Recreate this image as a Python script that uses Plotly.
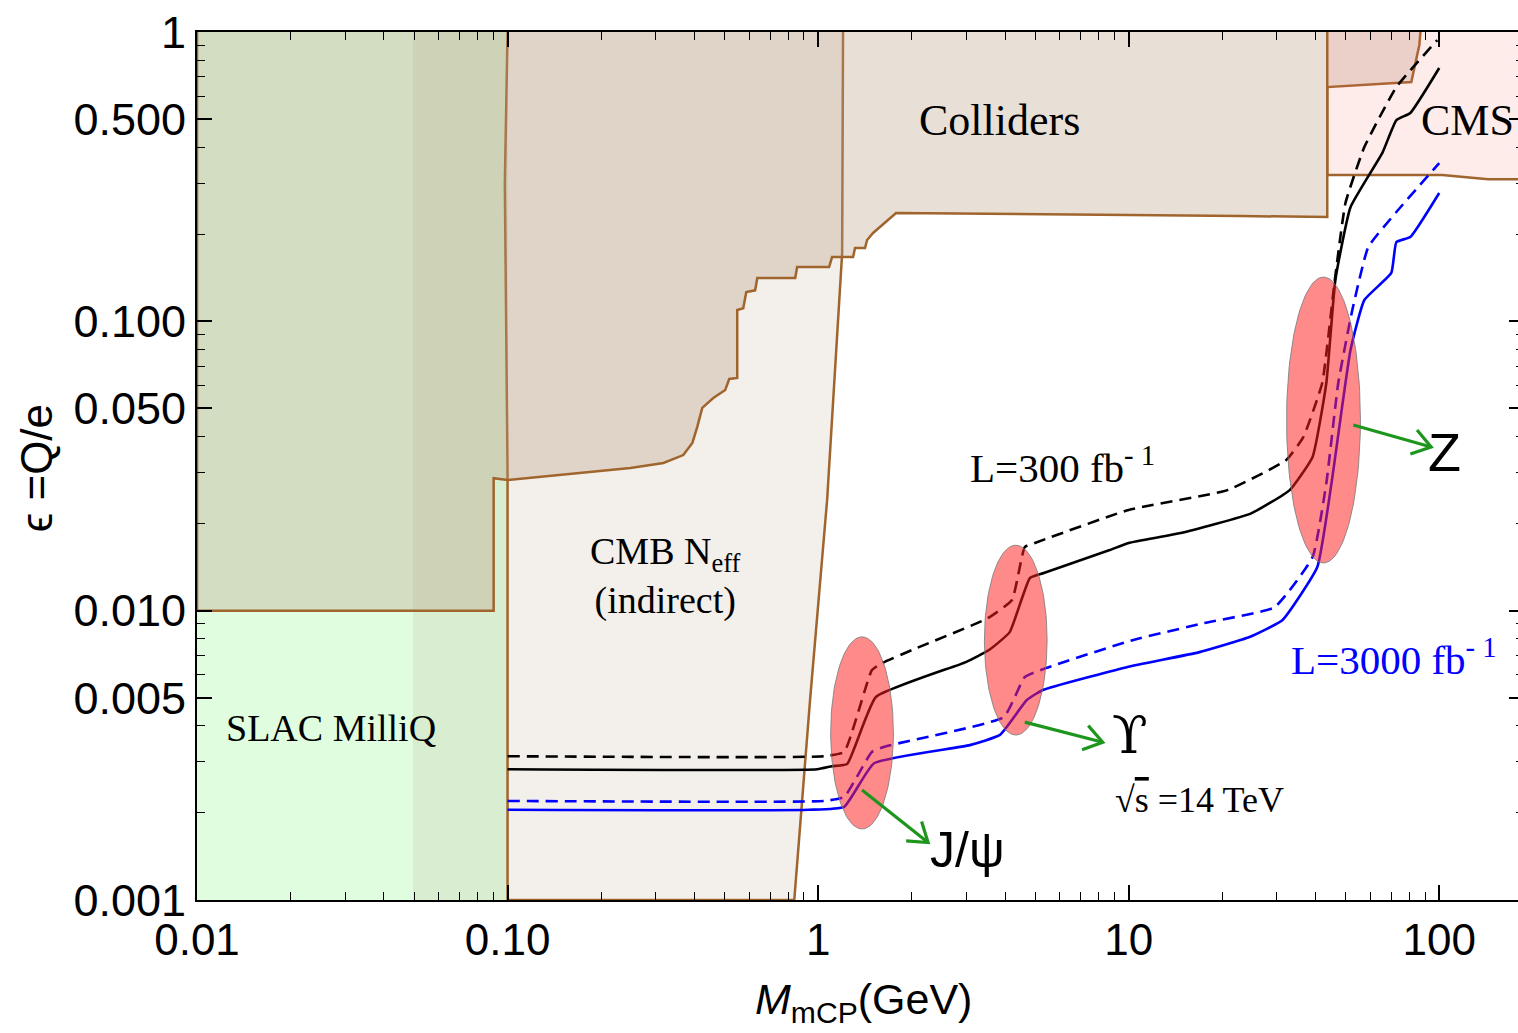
import numpy as np
import plotly.graph_objects as go

# ---------------- data (mass in GeV, epsilon = Q/e) ----------------
slac_x = [0.01, 0.1, 0.1, 0.01]
slac_y = [0.001, 0.001, 1.0, 1.0]

band_x = [0.0496, 0.1, 0.1, 0.0496]
band_y = [0.001, 0.001, 1.0, 1.0]

cmb_x = [0.1, 0.098, 0.1, 0.1, 0.838, 0.942, 1.069, 1.195, 1.203]
cmb_y = [1.0, 0.3, 0.03, 0.001, 0.001, 0.00491, 0.0241, 0.172, 1.0]

coll_x = [0.01, 0.01, 0.0902, 0.0902, 0.1, 0.1717, 0.2486, 0.3176, 0.368, 0.3936,
          0.408, 0.4236, 0.4597, 0.5023, 0.5173, 0.549, 0.549, 0.574, 0.587, 0.627,
          0.637, 0.844, 0.856, 1.085, 1.109, 1.296, 1.315, 1.416, 1.438, 1.503,
          1.618, 1.782, 22.9, 43.6, 43.6, 81.3, 86.3, 87.0]
coll_y = [1.0, 0.01, 0.01, 0.0287, 0.0283, 0.0299, 0.0311, 0.0324, 0.0345, 0.0380,
          0.0431, 0.0502, 0.0543, 0.0579, 0.0632, 0.0637, 0.1094, 0.111, 0.1263, 0.128,
          0.1411, 0.1411, 0.154, 0.154, 0.1668, 0.1668, 0.1792, 0.1792, 0.191, 0.202,
          0.217, 0.2367, 0.2312, 0.2294, 0.645, 0.672, 0.902, 1.0]

cms_x = [43.6, 43.6, 102.2, 143.8, 200.0, 200.0]
cms_y = [1.0, 0.3204, 0.3204, 0.310, 0.310, 1.0]

# L = 300 fb^-1 (black), dashed and solid
bd_x = [0.1, 1.045, 1.213, 1.49, 1.607, 2.005, 3.52, 4.21, 4.63, 4.99, 10.0, 20.8,
        32.2, 36.5, 42.0, 45.9, 49.9, 57.4, 72.8, 98.6]
bd_y = [0.00314, 0.00314, 0.00325, 0.00623, 0.00659, 0.00731, 0.00942, 0.01088,
        0.0166, 0.01714, 0.0223, 0.0261, 0.0332, 0.0398, 0.0612, 0.1334, 0.2564,
        0.4004, 0.645, 0.938]
bs_x = [0.1, 0.993, 1.109, 1.24, 1.535, 2.99, 3.55, 4.14, 4.81, 5.33, 8.69, 10.0,
        14.7, 24.8, 33.0, 39.1, 43.3, 46.3, 51.8, 65.6, 72.8, 80.7, 100.0]
bs_y = [0.00283, 0.00283, 0.00290, 0.00295, 0.00503, 0.00664, 0.00731, 0.00843,
        0.01297, 0.01349, 0.0162, 0.01714, 0.01854, 0.0217, 0.0261, 0.0340, 0.0612,
        0.139, 0.248, 0.382, 0.496, 0.525, 0.751]

# L = 3000 fb^-1 (blue), dashed and solid
ud_x = [0.1, 1.045, 1.213, 1.49, 1.655, 3.96, 4.63, 5.41, 10.3, 17.5, 29.5, 39.1,
        43.3, 47.3, 52.5, 59.1, 72.8, 100.0]
ud_y = [0.00220, 0.00220, 0.00227, 0.00325, 0.00340, 0.00429, 0.00590, 0.00633,
        0.00791, 0.00906, 0.01028, 0.01532, 0.0276, 0.0612, 0.1094, 0.1807, 0.2387,
        0.3525]
us_x = [0.1, 0.935, 1.213, 1.514, 3.08, 3.85, 4.70, 5.29, 9.86, 16.9, 24.5, 31.3,
        40.5, 45.0, 51.8, 57.4, 70.1, 72.8, 80.7, 100.0]
us_y = [0.00205, 0.00205, 0.00210, 0.00297, 0.00343, 0.00372, 0.00491, 0.00532,
        0.00638, 0.00719, 0.00811, 0.00929, 0.01415, 0.0276, 0.0796, 0.1185, 0.147,
        0.188, 0.1956, 0.2777]

# resonances highlighted by ellipses
res_names = ["J/ψ", "ϒ", "Z"]
res_mass = [1.385, 4.33, 42.4]
res_eps = [0.00378, 0.00791, 0.0456]
arrow_tail_x = [1.385, 4.63, 52.9]
arrow_tail_y = [0.0024, 0.00412, 0.0438]
arrow_head_x = [2.26, 8.25, 94.2]
arrow_head_y = [0.00158, 0.00351, 0.0368]
res_label_x = [3.03, 10.07, 103.7]
res_label_y = [0.00149, 0.00372, 0.0353]

# region / curve labels
region_labels = ["Colliders", "CMS", "CMB N<sub>eff</sub><br>(indirect)", "SLAC MilliQ"]
region_label_x = [3.85, 86.3, 0.322, 0.027]
region_label_y = [0.496, 0.496, 0.01318, 0.00393]

x_major = [0.01, 0.1, 1, 10, 100]
x_major_text = ["0.01", "0.10", "1", "10", "100"]
y_major = [0.001, 0.005, 0.01, 0.05, 0.1, 0.5, 1]
y_major_text = ["0.001", "0.005", "0.010", "0.050", "0.100", "0.500", "1"]

# ---------------- styling / geometry ----------------
ell_half_dec_x = [0.101, 0.101, 0.119]     # ellipse half widths (decades)
ell_half_dec_y = [0.332, 0.328, 0.494]     # ellipse half heights (decades)
X_RANGE = [-2, 2.273]
Y_RANGE = [-3, 0]
ML, MT, MB = 197, 32, 133
W, H = 1526, 1033
PLOT_W = W - ML
PLOT_H = H - MT - MB
PX_X = PLOT_W / (X_RANGE[1] - X_RANGE[0])   # pixels per decade
PX_Y = PLOT_H / (Y_RANGE[1] - Y_RANGE[0])

BROWN = "rgb(160,100,45)"
GREEN = "rgb(30,150,30)"
SERIF = "Liberation Serif, Times New Roman, serif"
SANS = "Liberation Sans, Arial, sans-serif"

fig = go.Figure()


def region(x, y, fill, line=True):
    fig.add_trace(go.Scatter(
        x=x, y=y, mode="lines", fill="toself", fillcolor=fill,
        line=dict(color=BROWN if line else "rgba(0,0,0,0)", width=2.5 if line else 0),
        hoverinfo="skip"))


region(slac_x, slac_y, "rgb(224,253,224)", line=False)
region(band_x, band_y, "rgba(186,159,135,0.17)", line=False)
region(cmb_x, cmb_y, "rgba(186,159,135,0.17)")
region(coll_x, coll_y, "rgba(186,159,135,0.33)")
region(cms_x, cms_y, "rgba(245,105,100,0.13)")

for x, y, c, d in [(bd_x, bd_y, "black", "12px,7px"), (bs_x, bs_y, "black", "solid"),
                   (ud_x, ud_y, "blue", "12px,7px"), (us_x, us_y, "blue", "solid")]:
    fig.add_trace(go.Scatter(x=x, y=y, mode="lines", line_shape="spline",
                             line=dict(color=c, width=2.6, dash=d, smoothing=0.4),
                             hoverinfo="skip"))

# ellipses (drawn in log space)
t = np.linspace(0, 2 * np.pi, 121)
for m, e, hx, hy in zip(res_mass, res_eps, ell_half_dec_x, ell_half_dec_y):
    ex = 10 ** (np.log10(m) + hx * np.cos(t))
    ey = 10 ** (np.log10(e) + hy * np.sin(t))
    fig.add_trace(go.Scatter(x=ex, y=ey, mode="lines", fill="toself",
                             fillcolor="rgba(255,30,30,0.52)",
                             line=dict(color="rgba(120,120,120,0.8)", width=1),
                             hoverinfo="skip"))

# green arrows with open chevron heads
for tx, ty, hx_, hy_ in zip(arrow_tail_x, arrow_tail_y, arrow_head_x, arrow_head_y):
    fig.add_trace(go.Scatter(x=[tx, hx_], y=[ty, hy_], mode="lines",
                             line=dict(color=GREEN, width=3.2), hoverinfo="skip"))
    dx = (np.log10(hx_) - np.log10(tx)) * PX_X
    dy = (np.log10(hy_) - np.log10(ty)) * PX_Y
    n = np.hypot(dx, dy)
    ux, uy = dx / n, dy / n
    arm = []
    for ang in (0.6, -0.6):
        rx = ux * np.cos(ang) - uy * np.sin(ang)
        ry = ux * np.sin(ang) + uy * np.cos(ang)
        arm.append((10 ** (np.log10(hx_) - 22 * rx / PX_X),
                    10 ** (np.log10(hy_) - 22 * ry / PX_Y)))
    fig.add_trace(go.Scatter(x=[arm[0][0], hx_, arm[1][0]], y=[arm[0][1], hy_, arm[1][1]],
                             mode="lines", line=dict(color=GREEN, width=3.2),
                             hoverinfo="skip"))

ann = []
for name, lx, ly in zip(res_names, res_label_x, res_label_y):
    fam = "DejaVu Serif, Liberation Serif, serif" if name == "ϒ" else SANS
    size = {"J/ψ": 50, "ϒ": 52, "Z": 54}[name]
    ann.append(dict(x=np.log10(lx), y=np.log10(ly), xref="x", yref="y", text=name,
                    showarrow=False, xanchor="center", yanchor="middle",
                    font=dict(family=fam, size=size, color="black")))

for txt, lx, ly in zip(region_labels, region_label_x, region_label_y):
    anchor = "left" if txt == "CMS" else "center"
    ann.append(dict(x=np.log10(lx), y=np.log10(ly), xref="x", yref="y", text=txt,
                    showarrow=False, xanchor=anchor, yanchor="middle",
                    font=dict(family=SERIF, size=44 if txt in ("Colliders", "CMS") else 38,
                              color="black")))

ann.append(dict(x=np.log10(6.14), y=np.log10(0.0319), xref="x", yref="y",
                text="L=300 fb<sup>- 1</sup>", showarrow=False,
                xanchor="center", yanchor="middle",
                font=dict(family=SERIF, size=41, color="black")))
ann.append(dict(x=np.log10(71.6), y=np.log10(0.00691), xref="x", yref="y",
                text="L=3000 fb<sup>- 1</sup>", showarrow=False,
                xanchor="center", yanchor="middle",
                font=dict(family=SERIF, size=41, color="blue")))
ann.append(dict(x=np.log10(16.9), y=np.log10(0.00221), xref="x", yref="y",
                text="√<span style='text-decoration:overline'>s</span> =14 TeV",
                showarrow=False, xanchor="center", yanchor="middle",
                font=dict(family=SERIF, size=36, color="black")))

# axis titles (paper coords relative to the visible 1321-px plot width)
ann.append(dict(x=(37 - ML) / PLOT_W, y=0.4977, xref="paper", yref="paper", text="ϵ =Q/e",
                textangle=-90, showarrow=False, xanchor="center", yanchor="middle",
                font=dict(family=SANS, size=44, color="black")))
ann.append(dict(x=(865 - ML) / PLOT_W, y=-0.118, xref="paper", yref="paper",
                text="<i>M</i><sub>mCP</sub>(GeV)", showarrow=False,
                xanchor="center", yanchor="middle",
                font=dict(family=SANS, size=43, color="black")))

x_minor = [k * 10.0 ** d for d in range(-2, 3) for k in range(2, 10)]
y_minor = [k * 10.0 ** d for d in range(-3, 0) for k in (2, 3, 4, 6, 7, 8, 9)]

axis_common = dict(type="log", showgrid=False, zeroline=False, showline=True,
                   linecolor="black", linewidth=2, mirror="ticks", ticks="inside",
                   ticklen=15, tickwidth=1.8, tickcolor="black",
                   ticklabeloverflow="allow")

fig.update_layout(
    width=W, height=H, margin=dict(l=ML, r=0, t=MT, b=MB),
    plot_bgcolor="white", paper_bgcolor="white", showlegend=False,
    xaxis=dict(range=X_RANGE, tickvals=x_major, ticktext=x_major_text,
               tickfont=dict(family=SANS, size=44, color="black"),
               minor=dict(tickvals=x_minor, ticks="inside", ticklen=8, tickwidth=1.3,
                          tickcolor="black", showgrid=False),
               **axis_common),
    yaxis=dict(range=Y_RANGE, tickvals=y_major, ticktext=y_major_text,
               tickfont=dict(family=SANS, size=45, color="black"),
               minor=dict(tickvals=y_minor, ticks="inside", ticklen=8, tickwidth=1.3,
                          tickcolor="black", showgrid=False),
               **axis_common),
    annotations=ann,
)

fig.write_html(
    "out.html",
    config={"displayModeBar": False},
    post_script="document.body.style.margin='0';document.body.style.overflow='hidden';",
)
